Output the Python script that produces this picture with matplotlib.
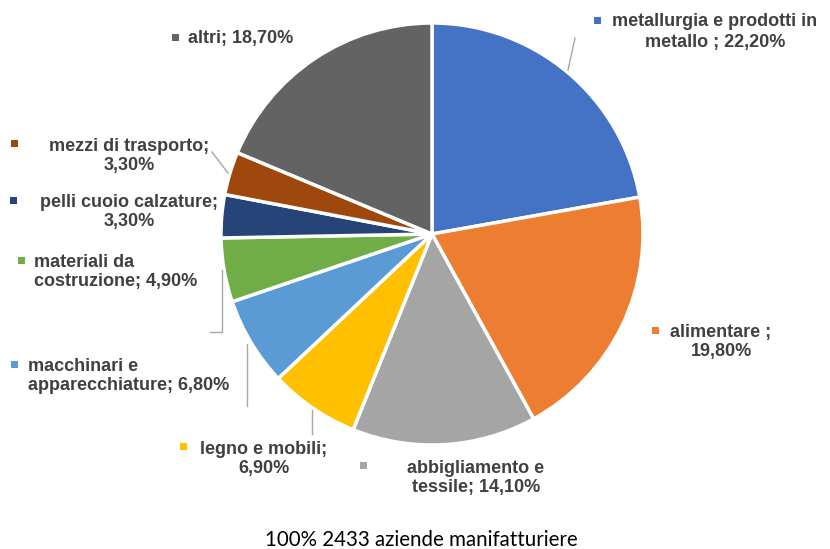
import matplotlib.pyplot as plt
from matplotlib.patches import Rectangle

# data
labels = ['metallurgia e prodotti in\nmetallo ; 22,20%', 'alimentare ;\n19,80%',
          'abbigliamento e\ntessile; 14,10%', 'legno e mobili;\n6,90%',
          'macchinari e\napparecchiature; 6,80%', 'materiali da\ncostruzione; 4,90%',
          'pelli cuoio calzature;\n3,30%', 'mezzi di trasporto;\n3,30%', 'altri; 18,70%']
values = [22.2, 19.8, 14.1, 6.9, 6.8, 4.9, 3.3, 3.3, 18.7]
colors = ['#4472C4', '#ED7D31', '#A5A5A5', '#FFC000', '#5B9BD5',
          '#70AD47', '#264478', '#9E480E', '#636363']
footer = '100% 2433 aziende manifatturiere'

W, H = 830, 549
# label layout in pixels (top origin): marker x, marker y, text x, text y, align, line spacing
lab_pos = [(597, 20, 715, 32, 'center', 1.35), (655, 330, 721, 342, 'center', 1.2),
           (363, 465, 476, 478, 'center', 1.2), (183, 446, 264, 459, 'center', 1.2),
           (14, 364, 28, 376, 'left', 1.2), (21, 260, 34, 272, 'left', 1.2),
           (13, 200, 129, 212, 'center', 1.2), (14, 143, 129, 156, 'center', 1.2),
           (175, 37, 188, 38, 'left', 1.2)]
leaders = [[(575, 38), (568, 70)], [(212, 152), (228, 173)],
           [(210, 332), (222, 332), (222, 270)], [(247, 344), (247, 406)],
           [(312, 410), (312, 434)]]

fig = plt.figure(figsize=(W / 100, H / 100), dpi=100)
ax = fig.add_axes([0, 0, 1, 1])
ax.axis('off')

ax.pie(values, colors=colors, startangle=90, counterclock=False,
       center=(432, H - 234), radius=211,
       wedgeprops=dict(edgecolor='white', linewidth=2.5))
ax.set_aspect('equal')
ax.set_xlim(0, W)
ax.set_ylim(0, H)

for (mx, my, tx, ty, ha, ls), lab, c in zip(lab_pos, labels, colors):
    ax.add_patch(Rectangle((mx - 3.5, H - my - 3.5), 7, 7, color=c, lw=0))
    ax.text(tx, H - ty, lab, ha=ha, va='center', fontsize=13, fontweight='bold',
            color='#404040', family='Liberation Sans', linespacing=ls)

for pts in leaders:
    xs = [p[0] for p in pts]
    ys = [H - p[1] for p in pts]
    ax.plot(xs, ys, color='#A6A6A6', lw=1)

ax.text(421, H - 540, footer, ha='center', va='center', fontsize=14.8,
        family='Lato', color='black')

fig.savefig('out.png', dpi=100)
